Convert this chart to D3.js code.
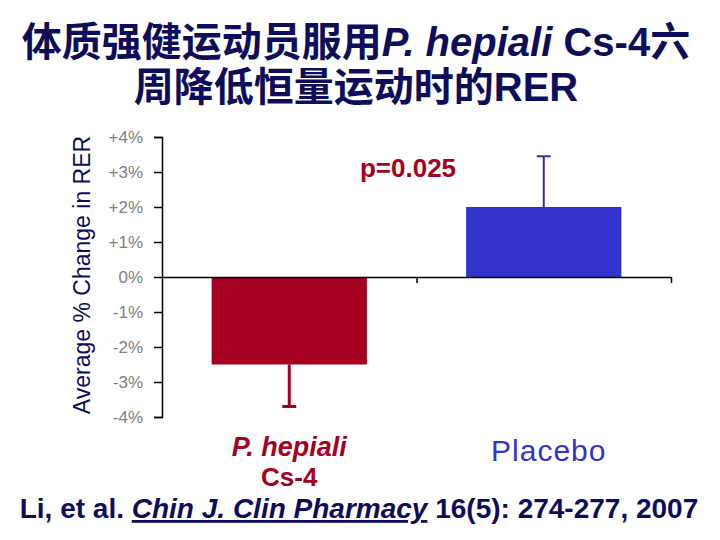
<!DOCTYPE html>
<html>
<head>
<meta charset="utf-8">
<script src="https://cdn.jsdelivr.net/npm/d3@7"></script>
<style>
  body { margin: 0; background: #fff; }
  text { font-family: "Liberation Sans", Arial, "Noto Sans CJK SC", sans-serif; }
</style>
</head>
<body>
<div id="main"></div>
<script>
// ===================== data =====================
var categories = ["P. hepiali Cs-4", "Placebo"];
var values = [-2.5, 2.0];        // average % change in RER
var errors = [1.2, 1.45];        // error bar length (one side)
var yTicks = [-4, -3, -2, -1, 0, 1, 2, 3, 4];
var barColors = ["#a50021", "#3333cc"];
var errColors = ["#a50021", "#333399"];

// ===================== svg =====================
const W = 720, H = 540;
const svg = d3.select('#main').append('svg')
  .attr('width', W)
  .attr('height', H);

// scales
var y = d3.scaleLinear().domain([-4, 4]).range([417, 137]);
var x = d3.scaleBand().domain(categories)
  .range([162, 671])
  .paddingInner(0.39)
  .paddingOuter(0.195);
// boundaries between categories, for the x axis ticks
var xEdge = d3.scaleLinear().domain([0, categories.length]).range([162, 671]);

// title
var title = svg.append('text')
  .attr('text-anchor', 'middle')
  .style('font-weight', 'bold')
  .style('font-size', '40px')
  .style('fill', '#0d0d5c');
var t1 = title.append('tspan').attr('x', 356).attr('y', 56);
t1.append('tspan').text('体质强健运动员服用');
t1.append('tspan').style('font-style', 'italic').text('P. hepiali');
t1.append('tspan').text(' Cs-4六');
title.append('tspan').attr('x', 356).attr('y', 101).text('周降低恒量运动时的RER');

// y axis
var yAxis = d3.axisLeft(y)
  .tickValues(yTicks)
  .tickSize(8)
  .tickPadding(11)
  .tickFormat(d => (d > 0 ? '+' : '') + d + '%');
var gy = svg.append('g')
  .attr('transform', 'translate(162,0)')
  .call(yAxis);
gy.select('.domain').attr('stroke', '#000').attr('stroke-width', 1.5);
gy.selectAll('.tick line').attr('stroke', '#000').attr('stroke-width', 1.5);
gy.selectAll('.tick text')
  .style('font-size', '17px')
  .style('fill', '#808080')
  .style('font-family', '"Liberation Sans", Arial, sans-serif');

// y axis title
svg.append('text')
  .attr('transform', 'translate(90,275) rotate(-90)')
  .attr('text-anchor', 'middle')
  .style('font-size', '23px')
  .style('fill', '#0d0d5c')
  .text('Average % Change in RER');

// bars
svg.selectAll('rect.bar')
  .data(values)
  .enter()
  .append('rect')
  .attr('class', 'bar')
  .attr('x', (d, i) => x(categories[i]))
  .attr('width', x.bandwidth())
  .attr('y', d => y(Math.max(0, d)))
  .attr('height', d => Math.abs(y(d) - y(0)))
  .style('fill', (d, i) => barColors[i]);

// error bars (one-sided, away from zero)
var eb = svg.selectAll('g.err')
  .data(values)
  .enter()
  .append('g')
  .attr('class', 'err');
eb.append('line')
  .attr('x1', (d, i) => x(categories[i]) + x.bandwidth() / 2)
  .attr('x2', (d, i) => x(categories[i]) + x.bandwidth() / 2)
  .attr('y1', d => y(d))
  .attr('y2', (d, i) => y(d + Math.sign(d) * errors[i]))
  .attr('stroke', (d, i) => errColors[i])
  .attr('stroke-width', (d, i) => i == 0 ? 3 : 2);
eb.append('line')
  .attr('x1', (d, i) => x(categories[i]) + x.bandwidth() / 2 - 7)
  .attr('x2', (d, i) => x(categories[i]) + x.bandwidth() / 2 + 7)
  .attr('y1', (d, i) => y(d + Math.sign(d) * errors[i]))
  .attr('y2', (d, i) => y(d + Math.sign(d) * errors[i]))
  .attr('stroke', (d, i) => errColors[i])
  .attr('stroke-width', (d, i) => i == 0 ? 3 : 2);

// x axis at zero
var xAxis = d3.axisBottom(xEdge)
  .tickValues(d3.range(1, categories.length + 1))
  .tickSize(6)
  .tickSizeOuter(0)
  .tickFormat('');
var gx = svg.append('g')
  .attr('transform', 'translate(0,' + y(0) + ')')
  .call(xAxis);
gx.select('.domain').attr('stroke', '#000').attr('stroke-width', 1.5);
gx.selectAll('.tick line').attr('stroke', '#000').attr('stroke-width', 1.5);

// p value
svg.append('text')
  .attr('x', 408)
  .attr('y', 177)
  .attr('text-anchor', 'middle')
  .style('font-weight', 'bold')
  .style('font-size', '26px')
  .style('fill', '#a50021')
  .text('p=0.025');

// category labels
var c0 = x(categories[0]) + x.bandwidth() / 2;
var c1 = x(categories[1]) + x.bandwidth() / 2;
svg.append('text')
  .attr('x', c0).attr('y', 456)
  .attr('text-anchor', 'middle')
  .style('font-weight', 'bold')
  .style('font-style', 'italic')
  .style('font-size', '27px')
  .style('fill', '#a50021')
  .text('P. hepiali');
svg.append('text')
  .attr('x', c0).attr('y', 486)
  .attr('text-anchor', 'middle')
  .style('font-weight', 'bold')
  .style('font-size', '26px')
  .style('fill', '#a50021')
  .text('Cs-4');
svg.append('text')
  .attr('x', c1 + 5).attr('y', 461)
  .attr('text-anchor', 'middle')
  .style('font-size', '30px')
  .style('letter-spacing', '1px')
  .style('fill', '#3333cc')
  .text('Placebo');

// citation
var cite = svg.append('text')
  .attr('x', 359).attr('y', 518)
  .attr('text-anchor', 'middle')
  .style('font-weight', 'bold')
  .style('font-size', '28px')
  .style('fill', '#0d0d5c');
cite.append('tspan').text('Li, et al. ');
cite.append('tspan')
  .style('font-style', 'italic')
  .style('text-decoration', 'underline')
  .text('Chin J. Clin Pharmacy');
cite.append('tspan').text(' 16(5): 274-277, 2007');
</script>
</body>
</html>
